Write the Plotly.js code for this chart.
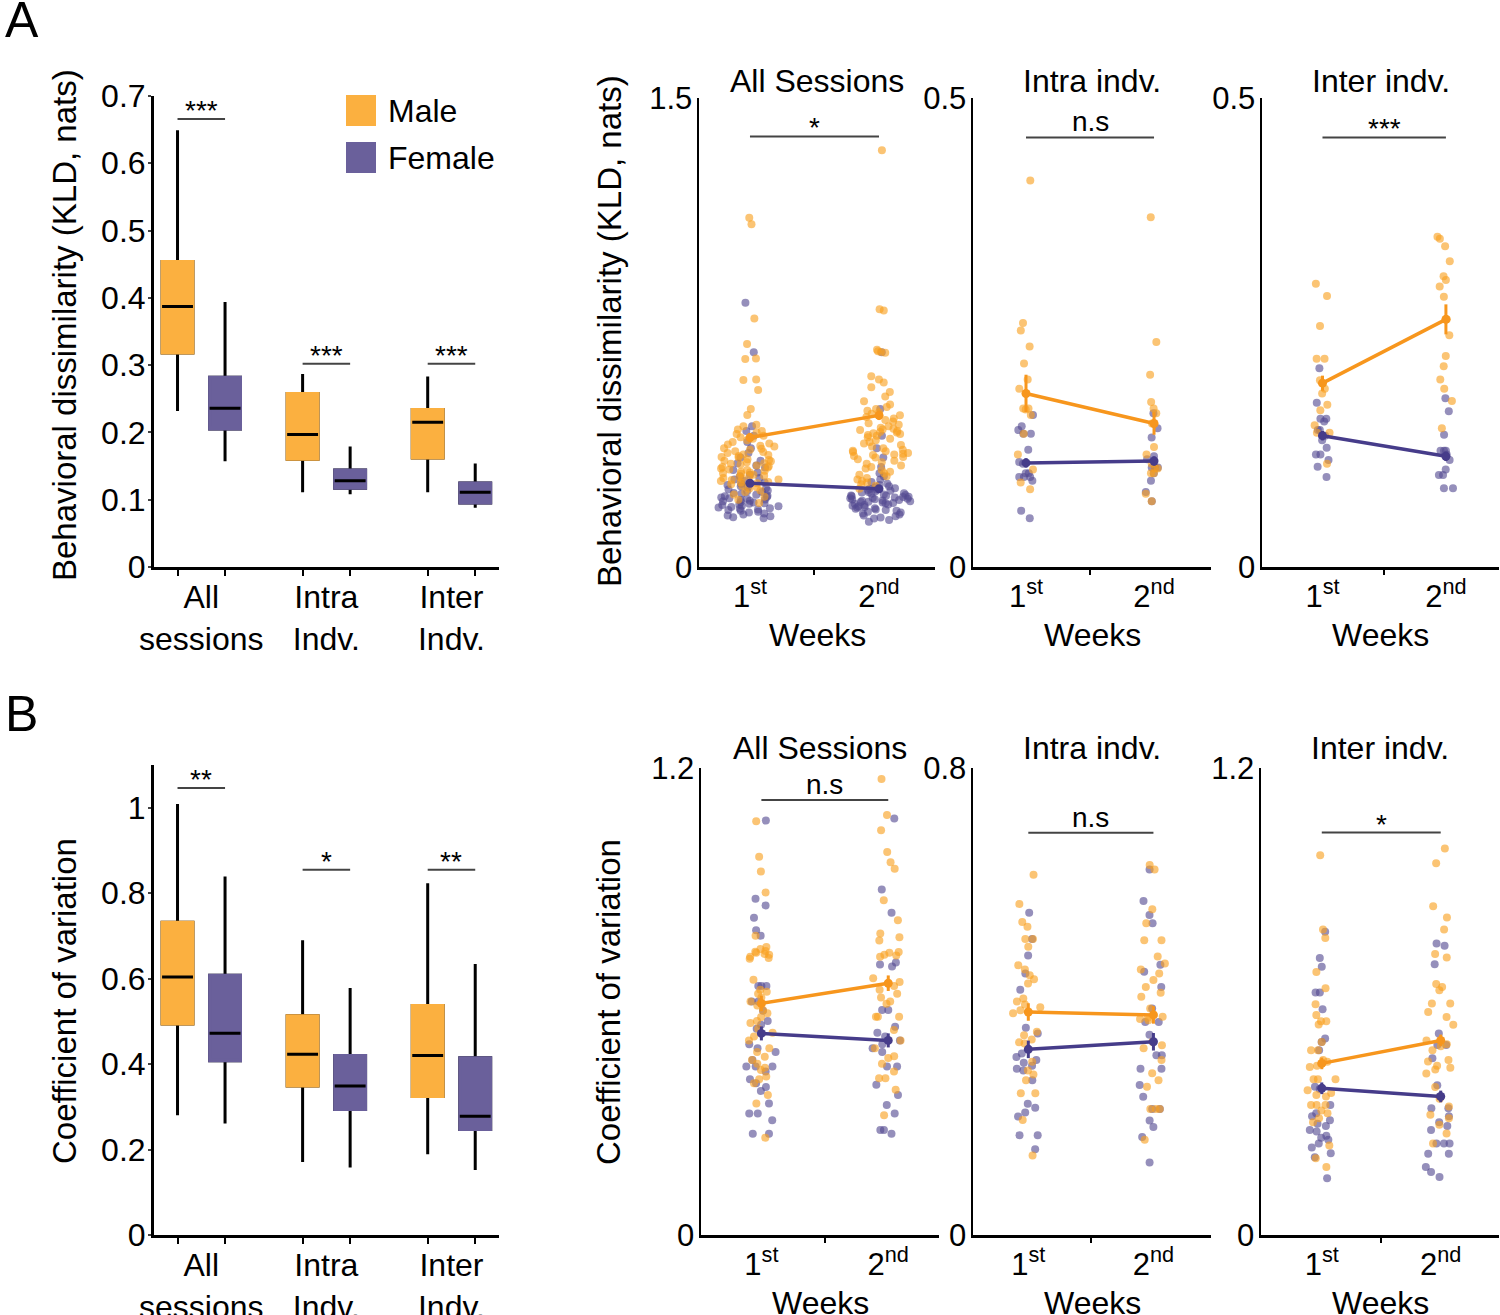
<!DOCTYPE html>
<html>
<head>
<meta charset="utf-8">
<script src="https://cdn.plot.ly/plotly-3.0.1.min.js"></script>
<style>body{margin:0;background:#fff}</style>
</head>
<body>
<div id="plot" style="width:1500px;height:1315px"></div>
<script>
// categories / labels
const groups = ['All<br>sessions', 'Intra<br>Indv.', 'Inter<br>Indv.'];
const sexes = ['Male', 'Female'];
const weeks = ['1<sup>st</sup>', '2<sup>nd</sup>'];
const stripTitles = ['All Sessions', 'Intra indv.', 'Inter indv.'];
const kldTitle = 'Behavioral dissimilarity (KLD, nats)';
const cvTitle = 'Coefficient of variation';

// A: box stats (KLD), order = All, Intra, Inter
const kldMaleLow = [0.232, 0.111, 0.111];
const kldMaleQ1 = [0.318, 0.160, 0.162];
const kldMaleMed = [0.387, 0.197, 0.215];
const kldMaleQ3 = [0.454, 0.258, 0.234];
const kldMaleHigh = [0.649, 0.287, 0.283];
const kldFemaleLow = [0.157, 0.108, 0.088];
const kldFemaleQ1 = [0.205, 0.117, 0.095];
const kldFemaleMed = [0.236, 0.128, 0.111];
const kldFemaleQ3 = [0.282, 0.144, 0.125];
const kldFemaleHigh = [0.394, 0.179, 0.154];

// B: box stats (CV)
const cvMaleLow = [0.280, 0.171, 0.189];
const cvMaleQ1 = [0.494, 0.349, 0.324];
const cvMaleMed = [0.604, 0.423, 0.420];
const cvMaleQ3 = [0.732, 0.513, 0.537];
const cvMaleHigh = [1.009, 0.690, 0.823];
const cvFemaleLow = [0.261, 0.158, 0.152];
const cvFemaleQ1 = [0.408, 0.294, 0.247];
const cvFemaleMed = [0.472, 0.349, 0.278];
const cvFemaleQ3 = [0.608, 0.420, 0.415];
const cvFemaleHigh = [0.839, 0.578, 0.634];

// significance labels
const kldBoxSig = ['***', '***', '***'];
const kldWeekSig = ['*', 'n.s', '***'];
const cvBoxSig = ['**', '*', '**'];
const cvWeekSig = ['n.s', 'n.s', '*'];

// A: points per week (M = male, F = female; 1 = 1st week, 2 = 2nd week)
const kldAllM1 = [1.117,1.096,0.795,0.713,0.667,0.665,0.600,0.598,0.566,0.505,0.486,0.455,0.450,0.440,0.435,0.430,0.425,0.420,0.415,0.410,0.405,0.400,0.395,0.392,0.388,0.385,0.380,0.378,0.375,0.370,0.368,0.365,0.360,0.358,0.355,0.352,0.350,0.345,0.342,0.340,0.338,0.335,0.332,0.330,0.328,0.325,0.322,0.320,0.318,0.315,0.312,0.310,0.308,0.305,0.302,0.300,0.298,0.295,0.292,0.290,0.288,0.285,0.282,0.280,0.278,0.275,0.272,0.270,0.268,0.265,0.260,0.255,0.250,0.245,0.240,0.232,0.225,0.215,0.205];
const kldAllF1 = [0.845,0.687,0.450,0.435,0.420,0.400,0.380,0.365,0.350,0.340,0.332,0.325,0.318,0.310,0.302,0.295,0.290,0.285,0.280,0.275,0.270,0.266,0.262,0.258,0.255,0.252,0.248,0.245,0.242,0.240,0.237,0.234,0.231,0.228,0.226,0.224,0.222,0.220,0.218,0.216,0.214,0.212,0.210,0.208,0.206,0.204,0.202,0.200,0.198,0.196,0.194,0.192,0.190,0.188,0.186,0.184,0.182,0.180,0.177,0.174,0.171,0.168,0.165,0.162,0.159,0.156];
const kldAllM2 = [1.333,0.824,0.820,0.695,0.690,0.688,0.685,0.610,0.600,0.590,0.575,0.560,0.545,0.530,0.520,0.512,0.505,0.500,0.495,0.490,0.485,0.480,0.475,0.470,0.465,0.460,0.455,0.450,0.445,0.442,0.440,0.438,0.435,0.432,0.430,0.428,0.425,0.422,0.420,0.415,0.410,0.405,0.400,0.395,0.390,0.385,0.380,0.375,0.372,0.370,0.368,0.365,0.362,0.360,0.358,0.355,0.352,0.350,0.345,0.340,0.335,0.330,0.325,0.320,0.315,0.310,0.305,0.300,0.295,0.290,0.285,0.280,0.275,0.270,0.265,0.260,0.250];
const kldAllF2 = [0.687,0.505,0.420,0.380,0.350,0.320,0.300,0.290,0.280,0.272,0.266,0.262,0.258,0.255,0.252,0.250,0.248,0.246,0.244,0.242,0.240,0.238,0.236,0.234,0.232,0.230,0.229,0.228,0.226,0.225,0.224,0.222,0.221,0.220,0.218,0.217,0.216,0.214,0.213,0.212,0.210,0.209,0.208,0.206,0.205,0.204,0.202,0.200,0.198,0.196,0.194,0.192,0.190,0.188,0.186,0.184,0.182,0.180,0.177,0.174,0.171,0.168,0.165,0.162,0.158,0.155,0.150,0.145];
const kldIntraM1 = [0.412,0.260,0.252,0.235,0.217,0.200,0.190,0.169,0.169,0.168,0.162,0.142,0.120,0.104,0.090,0.083];
const kldIntraF1 = [0.162,0.150,0.146,0.142,0.142,0.125,0.112,0.110,0.100,0.100,0.096,0.096,0.096,0.092,0.060,0.052];
const kldIntraM2 = [0.373,0.240,0.205,0.176,0.169,0.164,0.153,0.128,0.120,0.110,0.105,0.105,0.100,0.100,0.078,0.070];
const kldIntraF2 = [0.164,0.148,0.138,0.118,0.115,0.106,0.106,0.106,0.100,0.092,0.080,0.070];
const kldInterM1 = [0.302,0.289,0.257,0.222,0.222,0.199,0.190,0.185,0.173,0.167,0.151,0.143,0.143,0.110];
const kldInterF1 = [0.212,0.175,0.158,0.158,0.155,0.146,0.146,0.140,0.135,0.127,0.120,0.120,0.114,0.107,0.096];
const kldInterM2 = [0.352,0.350,0.342,0.326,0.310,0.306,0.299,0.288,0.264,0.247,0.225,0.214,0.200,0.190,0.177,0.148];
const kldInterF2 = [0.180,0.166,0.141,0.124,0.124,0.124,0.120,0.114,0.104,0.098,0.098,0.084,0.084];

// B: points per week
const cvAllM1 = [1.063,0.972,0.934,0.880,0.769,0.740,0.735,0.730,0.728,0.725,0.722,0.720,0.715,0.712,0.710,0.656,0.630,0.625,0.620,0.610,0.600,0.590,0.578,0.570,0.560,0.550,0.545,0.530,0.520,0.510,0.500,0.480,0.470,0.458,0.450,0.440,0.430,0.424,0.407,0.400,0.390,0.360,0.338,0.250];
const cvAllF1 = [1.065,0.864,0.847,0.815,0.783,0.769,0.640,0.640,0.640,0.600,0.600,0.576,0.550,0.540,0.530,0.490,0.480,0.470,0.450,0.433,0.433,0.433,0.420,0.400,0.390,0.380,0.370,0.338,0.312,0.312,0.295,0.260,0.260];
const cvAllM2 = [1.172,1.079,1.040,0.984,0.958,0.941,0.860,0.809,0.775,0.765,0.757,0.727,0.725,0.720,0.718,0.715,0.660,0.650,0.640,0.630,0.620,0.610,0.600,0.594,0.561,0.561,0.561,0.527,0.500,0.480,0.459,0.455,0.440,0.420,0.403,0.403,0.373,0.308];
const cvAllF2 = [1.070,0.888,0.828,0.700,0.695,0.690,0.578,0.578,0.535,0.520,0.510,0.500,0.490,0.480,0.470,0.433,0.433,0.386,0.360,0.334,0.312,0.270,0.270,0.260];
const cvIntraM1 = [0.617,0.567,0.536,0.528,0.507,0.507,0.494,0.462,0.455,0.445,0.438,0.431,0.405,0.400,0.395,0.390,0.385,0.380,0.348,0.342,0.335,0.330,0.328,0.297,0.282,0.275,0.265,0.243,0.243,0.197,0.136];
const cvIntraF1 = [0.552,0.507,0.479,0.448,0.420,0.355,0.345,0.311,0.305,0.300,0.295,0.290,0.285,0.282,0.265,0.225,0.218,0.210,0.203,0.171,0.171,0.147];
const cvIntraM2 = [0.634,0.626,0.558,0.534,0.505,0.505,0.477,0.465,0.455,0.448,0.437,0.425,0.415,0.408,0.388,0.374,0.372,0.370,0.368,0.331,0.325,0.320,0.300,0.277,0.265,0.254,0.216,0.216,0.216,0.163];
const cvIntraF2 = [0.626,0.572,0.548,0.534,0.463,0.451,0.425,0.388,0.365,0.365,0.343,0.308,0.308,0.285,0.285,0.257,0.237,0.216,0.216,0.196,0.185,0.168,0.124];
const cvInterM1 = [0.976,0.785,0.763,0.676,0.634,0.593,0.565,0.549,0.549,0.541,0.496,0.475,0.475,0.450,0.445,0.440,0.435,0.432,0.400,0.400,0.400,0.372,0.365,0.360,0.356,0.334,0.334,0.334,0.320,0.313,0.300,0.290,0.230,0.197,0.175];
const cvInterF1 = [0.779,0.712,0.689,0.623,0.623,0.580,0.505,0.496,0.475,0.381,0.375,0.334,0.313,0.305,0.295,0.286,0.280,0.270,0.266,0.255,0.250,0.245,0.235,0.225,0.210,0.200,0.146];
const cvInterM2 = [0.993,0.955,0.845,0.816,0.785,0.722,0.713,0.645,0.637,0.629,0.595,0.595,0.573,0.560,0.540,0.500,0.490,0.485,0.475,0.450,0.446,0.435,0.430,0.425,0.415,0.380,0.350,0.330,0.309,0.300,0.283,0.261,0.235];
const cvInterF2 = [0.749,0.743,0.696,0.518,0.488,0.488,0.454,0.385,0.356,0.326,0.326,0.305,0.290,0.280,0.270,0.235,0.235,0.235,0.209,0.209,0.175,0.162,0.149];

// group means and SEM (1st, 2nd week)
const kldMeanM = [[0.414, 0.485], [0.185, 0.153], [0.196, 0.264]];
const kldSemM = [[0.015, 0.015], [0.020, 0.012], [0.008, 0.016]];
const kldMeanF = [[0.268, 0.250], [0.111, 0.113], [0.140, 0.118]];
const kldSemF = [[0.006, 0.005], [0.005, 0.005], [0.005, 0.005]];
const cvMeanM = [[0.595, 0.647], [0.382, 0.377], [0.441, 0.500]];
const cvSemM = [[0.020, 0.020], [0.015, 0.015], [0.015, 0.015]];
const cvMeanF = [[0.518, 0.500], [0.318, 0.331], [0.377, 0.356]];
const cvSemF = [[0.018, 0.018], [0.015, 0.015], [0.015, 0.015]];

// colours
const orangeBox = 'rgb(251,176,64)';
const purpleBox = 'rgb(106,96,155)';
const orangeDot = 'rgba(248,160,30,0.62)';
const purpleDot = 'rgba(84,74,146,0.62)';
const orangeLine = 'rgb(247,150,29)';
const purpleLine = 'rgb(70,60,138)';

const W = 1500, H = 1315;
const px = v => v / W;
const py = v => 1 - v / H;
const FONT = 'Liberation Sans, Arial, Helvetica, sans-serif';
const boxOffset = 0.19;

// box traces: whiskers (black), box body, median line
function boxSet(lo, q1, med, q3, hi, fill, grp, xa, ya) {
    const pos = groups.map((g, i) => i);
    const base = {type: 'box', x: pos, xaxis: xa, yaxis: ya, offsetgroup: grp,
        whiskerwidth: 0, hoverinfo: 'skip', showlegend: false, boxpoints: false};
    return [
        Object.assign({}, base, {q1: q1, median: med, q3: q3, lowerfence: lo, upperfence: hi,
            fillcolor: fill, line: {color: '#000', width: 3}}),
        Object.assign({}, base, {q1: q1, median: q1, q3: q3, lowerfence: q1, upperfence: q3,
            fillcolor: fill, line: {color: fill, width: 3}}),
        Object.assign({}, base, {q1: med, median: med, q3: med, lowerfence: med, upperfence: med,
            fillcolor: 'rgba(0,0,0,0)', line: {color: '#000', width: 3}})
    ];
}

function strip(w1, w2, color, xa, ya, jitter) {
    return {type: 'box', x: w1.map(() => 1).concat(w2.map(() => 2)), y: w1.concat(w2),
        xaxis: xa, yaxis: ya, boxpoints: 'all', jitter: jitter, pointpos: 0, width: 0.5,
        fillcolor: 'rgba(0,0,0,0)', line: {width: 0, color: 'rgba(0,0,0,0)'}, whiskerwidth: 0,
        marker: {color: color, size: 8, line: {width: 0}}, hoverinfo: 'skip', showlegend: false};
}

function meanLine(m, s, color, xa, ya) {
    return {type: 'scatter', mode: 'lines+markers', x: weeks.map((w, i) => i + 1), y: m,
        error_y: {type: 'data', array: s, color: color, thickness: 3, width: 0},
        line: {color: color, width: 3.5}, marker: {color: color, size: 9},
        xaxis: xa, yaxis: ya, hoverinfo: 'skip', showlegend: false};
}

const data = [];
data.push(...boxSet(kldMaleLow, kldMaleQ1, kldMaleMed, kldMaleQ3, kldMaleHigh, orangeBox, 'm', 'x', 'y'));
data.push(...boxSet(kldFemaleLow, kldFemaleQ1, kldFemaleMed, kldFemaleQ3, kldFemaleHigh, purpleBox, 'f', 'x', 'y'));
data.push(...boxSet(cvMaleLow, cvMaleQ1, cvMaleMed, cvMaleQ3, cvMaleHigh, orangeBox, 'm', 'x5', 'y5'));
data.push(...boxSet(cvFemaleLow, cvFemaleQ1, cvFemaleMed, cvFemaleQ3, cvFemaleHigh, purpleBox, 'f', 'x5', 'y5'));

const kldStrips = [[kldAllM1, kldAllM2, kldAllF1, kldAllF2], [kldIntraM1, kldIntraM2, kldIntraF1, kldIntraF2], [kldInterM1, kldInterM2, kldInterF1, kldInterF2]];
const cvStrips = [[cvAllM1, cvAllM2, cvAllF1, cvAllF2], [cvIntraM1, cvIntraM2, cvIntraF1, cvIntraF2], [cvInterM1, cvInterM2, cvInterF1, cvInterF2]];
const kldJitter = [1.0, 0.3, 0.3];
const cvJitter = [0.55, 0.5, 0.55];

kldStrips.forEach((s, i) => {
    const xa = 'x' + (i + 2), ya = 'y' + (i + 2);
    data.push(strip(s[2], s[3], purpleDot, xa, ya, kldJitter[i]));
    data.push(strip(s[0], s[1], orangeDot, xa, ya, kldJitter[i]));
    data.push(meanLine(kldMeanF[i], kldSemF[i], purpleLine, xa, ya));
    data.push(meanLine(kldMeanM[i], kldSemM[i], orangeLine, xa, ya));
});
cvStrips.forEach((s, i) => {
    const xa = 'x' + (i + 6), ya = 'y' + (i + 6);
    data.push(strip(s[2], s[3], purpleDot, xa, ya, cvJitter[i]));
    data.push(strip(s[0], s[1], orangeDot, xa, ya, cvJitter[i]));
    data.push(meanLine(cvMeanF[i], cvSemF[i], purpleLine, xa, ya));
    data.push(meanLine(cvMeanM[i], cvSemM[i], orangeLine, xa, ya));
});

// axes
const boxX = () => ({
    domain: [px(154), px(499)], range: [-0.378, 2.38],
    showline: true, linecolor: '#000', linewidth: 3, showgrid: false, zeroline: false,
    tickmode: 'array', tickvals: groups.map((g, i) => i), ticktext: groups, ticks: '',
    tickfont: {size: 32},
    minor: {tickmode: 'array', tickvals: groups.flatMap((g, i) => [i - boxOffset, i + boxOffset]),
        ticks: 'outside', ticklen: 6, tickwidth: 2, tickcolor: '#000'}
});
const boxY = (top, bottom, max, dtick) => ({
    domain: [py(bottom), py(top)], range: [0, max], tick0: 0, dtick: dtick,
    showline: true, linecolor: '#000', linewidth: 3, showgrid: false, zeroline: false,
    ticks: 'outside', ticklen: 3, tickwidth: 2, tickfont: {size: 32}, ticklabelstandoff: -4
});
const stripX = (l, r, range) => ({
    domain: [px(l), px(r)], range: range,
    showline: true, linecolor: '#000', linewidth: 2.5, showgrid: false, zeroline: false,
    tickmode: 'array', tickvals: weeks.map((w, i) => i + 1), ticktext: weeks, ticks: '',
    tickfont: {size: 31},
    minor: {tickmode: 'array', tickvals: [1.5], ticks: 'outside', ticklen: 5, tickwidth: 2, tickcolor: '#000'}
});
const stripY = (top, bottom, max) => ({
    domain: [py(bottom), py(top)], range: [0, max], tickmode: 'array', tickvals: [0, max],
    showline: true, linecolor: '#000', linewidth: 2.5, showgrid: false, zeroline: false,
    ticks: '', tickfont: {size: 31}, ticklabelstandoff: -2
});

const layout = {
    width: W, height: H, margin: {l: 0, r: 0, t: 0, b: 0},
    paper_bgcolor: '#fff', plot_bgcolor: 'rgba(0,0,0,0)',
    font: {family: FONT, color: '#000'},
    showlegend: false, hovermode: false,
    boxmode: 'group', boxgap: 1 - 4 * boxOffset, boxgroupgap: 0.35,
    xaxis: Object.assign(boxX(), {anchor: 'y'}),
    yaxis: Object.assign(boxY(96, 567, 0.7, 0.1), {anchor: 'x'}),
    xaxis2: Object.assign(stripX(699, 935, [0.605, 2.434]), {anchor: 'y2'}),
    yaxis2: Object.assign(stripY(98, 567, 1.5), {anchor: 'x2'}),
    xaxis3: Object.assign(stripX(973, 1211, [0.586, 2.445]), {anchor: 'y3'}),
    yaxis3: Object.assign(stripY(98, 567, 0.5), {anchor: 'x3'}),
    xaxis4: Object.assign(stripX(1262, 1499, [0.51, 2.43]), {anchor: 'y4'}),
    yaxis4: Object.assign(stripY(98, 567, 0.5), {anchor: 'x4'}),
    xaxis5: Object.assign(boxX(), {anchor: 'y5'}),
    yaxis5: Object.assign(boxY(765, 1235, 1.1, 0.2), {anchor: 'x5'}),
    xaxis6: Object.assign(stripX(701, 939, [0.524, 2.40]), {anchor: 'y6'}),
    yaxis6: Object.assign(stripY(768, 1235, 1.2), {anchor: 'x6'}),
    xaxis7: Object.assign(stripX(973, 1211, [0.558, 2.46]), {anchor: 'y7'}),
    yaxis7: Object.assign(stripY(768, 1235, 0.8), {anchor: 'x7'}),
    xaxis8: Object.assign(stripX(1261, 1499, [0.489, 2.49]), {anchor: 'y8'}),
    yaxis8: Object.assign(stripY(768, 1235, 1.2), {anchor: 'x8'}),
    shapes: [],
    annotations: []
};

const ann = layout.annotations, shp = layout.shapes;
function text(t, x, y, size, extra) {
    ann.push(Object.assign({text: t, x: x, y: y, xref: 'paper', yref: 'paper', showarrow: false,
        font: {size: size}, xanchor: 'center', yanchor: 'middle'}, extra || {}));
}

// panel letters
text('A', px(3), py(20), 50, {xanchor: 'left'});
text('B', px(3), py(714), 50, {xanchor: 'left'});

// y titles
text(kldTitle, px(64), py(325), 33, {textangle: -90});
text(kldTitle, px(610), py(331), 33, {textangle: -90});
text(cvTitle, px(64), py(1001), 33, {textangle: -90});
text(cvTitle, px(608), py(1002), 33, {textangle: -90});

// strip titles and week labels
stripTitles.forEach((t, i) => {
    text(t, 0.5, py(81), 32, {xref: 'x' + (i + 2) + ' domain'});
    text(t, 0.5, py(748), 32, {xref: 'x' + (i + 6) + ' domain'});
    text('Weeks', 0.5, py(635), 32, {xref: 'x' + (i + 2) + ' domain'});
    text('Weeks', 0.5, py(1303), 32, {xref: 'x' + (i + 6) + ' domain'});
});

// significance bars
function sigBar(xa, ya, x0, x1, y, label) {
    shp.push({type: 'line', xref: xa, yref: ya, x0: x0, x1: x1, y0: y, y1: y,
        line: {color: '#444', width: 2}});
    ann.push({text: label, xref: xa, yref: ya, x: (x0 + x1) / 2, y: y, showarrow: false,
        yanchor: 'bottom', font: {size: 28}, yshift: label.indexOf('*') >= 0 ? -9 : -2});
}
const kldBoxY = [0.666, 0.302, 0.302];
const cvBoxY = [1.046, 0.855, 0.855];
const kldWeekY = [1.377, 0.458, 0.458];
const cvWeekY = [1.118, 0.689, 1.034];
groups.forEach((g, i) => {
    sigBar('x', 'y', i - boxOffset, i + boxOffset, kldBoxY[i], kldBoxSig[i]);
    sigBar('x5', 'y5', i - boxOffset, i + boxOffset, cvBoxY[i], cvBoxSig[i]);
    sigBar('x' + (i + 2), 'y' + (i + 2), 1, 2, kldWeekY[i], kldWeekSig[i]);
    sigBar('x' + (i + 6), 'y' + (i + 6), 1, 2, cvWeekY[i], cvWeekSig[i]);
});

// legend
[orangeBox, purpleBox].forEach((c, i) => {
    const top = i === 0 ? 95 : 142;
    shp.push({type: 'rect', xref: 'paper', yref: 'paper', x0: px(346), x1: px(376),
        y0: py(top + 31), y1: py(top), fillcolor: c, line: {width: 0}});
    text(sexes[i], px(386), py(top + 16), 32, {xanchor: 'left'});
});

Plotly.newPlot('plot', data, layout, {staticPlot: true});
</script>
</body>
</html>
